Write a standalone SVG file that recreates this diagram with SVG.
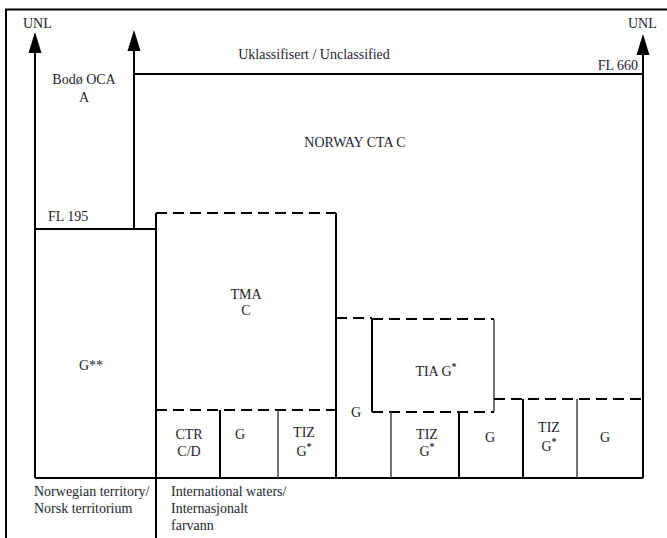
<svg xmlns="http://www.w3.org/2000/svg" width="667" height="538" viewBox="0 0 667 538">
<style>
text{font-family:"Liberation Serif","Times New Roman",serif;font-size:14px;fill:#1e1e30}
.c{text-anchor:middle}
.s{stroke:#000;stroke-width:2;fill:none}
.t{stroke:#444;stroke-width:1.5;fill:none}
.d{stroke:#000;stroke-width:2;fill:none;stroke-dasharray:11 6}
.sup{font-size:10px;font-weight:bold}
</style>
<rect width="667" height="538" fill="#fff"/>
<g id="frame">
<path class="s" d="M6 538 V9.5 H667"/>
</g>
<g id="connectors">
<path class="s" d="M35 478 V52"/>
<path d="M35 32 L41.5 53 L28.5 53 Z" fill="#000"/>
<path class="s" d="M134 229 V50"/>
<path d="M134 30 L140.5 51 L127.5 51 Z" fill="#000"/>
<path class="s" d="M643 478 V54"/>
<path d="M643 34 L649.5 55 L636.5 55 Z" fill="#000"/>
</g>
<g id="boundaries">
<path class="s" d="M134 74 H643"/>
<path class="s" d="M35 229 H156"/>
<path class="s" d="M156 538 V213"/>
<path class="s" d="M35 478 H643"/>
</g>
<g id="tma">
<path class="d" d="M156 213 H336"/>
<path class="s" d="M336 213 V478"/>
<path class="d" d="M156 410 H336"/>
<path class="s" d="M220 410 V478"/>
<path class="t" d="M278 410 V478"/>
</g>
<g id="tia">
<path class="d" d="M336 318 H372"/>
<path class="s" d="M372 412 V319"/>
<path class="d" d="M372 319 H494"/>
<path class="t" d="M494 319 V412"/>
<path class="d" d="M372 412 H494"/>
<path class="t" d="M391 412 V478"/>
<path class="s" d="M459 412 V478"/>
<path class="d" d="M494 399 H643"/>
<path class="s" d="M523 399 V478"/>
<path class="t" d="M577 399 V478"/>
</g>
<g id="labels">
<text x="23" y="28">UNL</text>
<text x="628" y="28">UNL</text>
<text class="c" x="314" y="59">Uklassifisert / Unclassified</text>
<text x="638" y="70" text-anchor="end">FL 660</text>
<text class="c" x="84" y="84">Bodø OCA</text>
<text class="c" x="84" y="102">A</text>
<text class="c" x="355" y="147">NORWAY CTA C</text>
<text x="48" y="221">FL 195</text>
<text class="c" x="246" y="299">TMA</text>
<text class="c" x="246" y="315">C</text>
<text class="c" x="91" y="370">G**</text>
<text class="c" x="436" y="376">TIA G<tspan class="sup" dy="-6">*</tspan></text>
<text class="c" x="356" y="417">G</text>
<text class="c" x="189" y="439">CTR</text>
<text class="c" x="189" y="456">C/D</text>
<text class="c" x="240" y="439">G</text>
<text class="c" x="304" y="437">TIZ</text>
<text class="c" x="304" y="456">G<tspan class="sup" dy="-6">*</tspan></text>
<text class="c" x="427" y="439">TIZ</text>
<text class="c" x="427" y="456">G<tspan class="sup" dy="-6">*</tspan></text>
<text class="c" x="490" y="442">G</text>
<text class="c" x="549" y="432">TIZ</text>
<text class="c" x="549" y="451">G<tspan class="sup" dy="-6">*</tspan></text>
<text class="c" x="605" y="442">G</text>
<text x="34" y="496">Norwegian territory/</text>
<text x="34" y="513">Norsk territorium</text>
<text x="171" y="496">International waters/</text>
<text x="171" y="513">Internasjonalt</text>
<text x="171" y="530">farvann</text>
</g>
</svg>
